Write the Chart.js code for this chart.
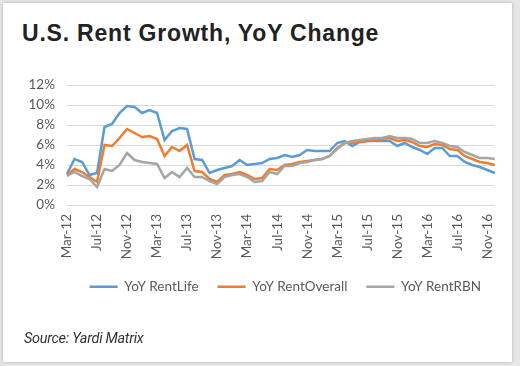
<!DOCTYPE html>
<html>
<head>
<meta charset="utf-8">
<script src="https://cdn.jsdelivr.net/npm/chart.js"></script>
<style>
    html, body { margin: 0; padding: 0; }
    body { width: 520px; height: 366px; background: #e6e6e6; position: relative; overflow: hidden; }
    #card { position: absolute; left: 3px; top: 3px; width: 509px; height: 359px; background: #fff; box-shadow: 0 0 3px rgba(0,0,0,0.25); }
    #title { position: absolute; left: 22px; top: 22px; font: bold 23px "Liberation Sans", Arial, sans-serif; letter-spacing: 0.8px; line-height: 23px; color: #222; }
    #source { position: absolute; left: 24px; top: 330px; font: italic 14.5px Roboto, sans-serif; letter-spacing: -0.3px; color: #333; }
    #chart { position: absolute; left: 0; top: 0; }
</style>
</head>
<body>
<div id="card"></div>
<div id="title">U.S. Rent Growth, YoY Change</div>
<canvas id="chart" width="520" height="366"></canvas>
<div id="source">Source: Yardi Matrix</div>
<script>
var months = [
    "Mar-12", "Apr-12", "May-12", "Jun-12", "Jul-12", "Aug-12", "Sep-12", "Oct-12", "Nov-12", "Dec-12",
    "Jan-13", "Feb-13", "Mar-13", "Apr-13", "May-13", "Jun-13", "Jul-13", "Aug-13", "Sep-13", "Oct-13", "Nov-13", "Dec-13",
    "Jan-14", "Feb-14", "Mar-14", "Apr-14", "May-14", "Jun-14", "Jul-14", "Aug-14", "Sep-14", "Oct-14", "Nov-14", "Dec-14",
    "Jan-15", "Feb-15", "Mar-15", "Apr-15", "May-15", "Jun-15", "Jul-15", "Aug-15", "Sep-15", "Oct-15", "Nov-15", "Dec-15",
    "Jan-16", "Feb-16", "Mar-16", "Apr-16", "May-16", "Jun-16", "Jul-16", "Aug-16", "Sep-16", "Oct-16", "Nov-16", "Dec-16"
];
var tickLabels = ["Mar-12", "Jul-12", "Nov-12", "Mar-13", "Jul-13", "Nov-13", "Mar-14", "Jul-14",
    "Nov-14", "Mar-15", "Jul-15", "Nov-15", "Mar-16", "Jul-16", "Nov-16"];
var yTicks = [0, 2, 4, 6, 8, 10, 12];

var rentLife = [3.1, 4.6, 4.3, 3.0, 3.2, 7.8, 8.1, 9.2, 9.9, 9.8,
    9.2, 9.5, 9.2, 6.5, 7.4, 7.7, 7.6, 4.6, 4.5, 3.2, 3.5, 3.7,
    3.9, 4.5, 4.0, 4.1, 4.2, 4.6, 4.7, 5.0, 4.8, 5.0, 5.5, 5.4,
    5.4, 5.4, 6.2, 6.4, 5.9, 6.3, 6.4, 6.4, 6.4, 6.4, 5.9, 6.2,
    5.8, 5.5, 5.1, 5.7, 5.7, 4.9, 4.9, 4.3, 4.0, 3.8, 3.5, 3.2];
var rentOverall = [3.0, 3.6, 3.3, 2.8, 2.3, 6.0, 5.9, 6.7, 7.6, 7.2,
    6.8, 6.9, 6.6, 4.9, 5.8, 5.4, 6.0, 3.4, 3.3, 2.6, 2.3, 3.0,
    3.1, 3.3, 3.0, 2.6, 2.7, 3.6, 3.5, 4.0, 4.1, 4.3, 4.4, 4.5,
    4.6, 4.9, 5.7, 6.2, 6.2, 6.3, 6.4, 6.5, 6.6, 6.7, 6.4, 6.5,
    6.3, 5.9, 5.8, 6.1, 6.0, 5.6, 5.5, 4.9, 4.6, 4.3, 4.2, 4.0];
var rentRBN = [2.9, 3.3, 2.9, 2.6, 1.8, 3.6, 3.4, 4.0, 5.2, 4.5,
    4.3, 4.2, 4.1, 2.7, 3.3, 2.8, 3.7, 2.8, 2.8, 2.4, 2.1, 2.8,
    3.0, 3.1, 2.8, 2.3, 2.4, 3.3, 3.1, 3.9, 3.9, 4.2, 4.3, 4.5,
    4.6, 4.9, 5.6, 6.2, 6.4, 6.5, 6.6, 6.7, 6.7, 6.9, 6.7, 6.7,
    6.6, 6.2, 6.2, 6.4, 6.2, 5.9, 5.8, 5.3, 5.0, 4.7, 4.7, 4.6];

var tickFont = { family: "Lato, sans-serif", size: 13.5 };
var tickColor = "#595959";

function makeSet(label, data, color, order) {
    return {
        label: label,
        data: data,
        borderColor: color,
        backgroundColor: color,
        borderWidth: 2.5,
        pointRadius: 0,
        tension: 0,
        fill: false,
        order: order
    };
}

var ctx = document.getElementById("chart").getContext("2d");
new Chart(ctx, {
    type: "line",
    data: {
        labels: months,
        datasets: [
            // gray on top, like the original
            makeSet("YoY RentLife", rentLife, "#5b9bd5", 2),
            makeSet("YoY RentOverall", rentOverall, "#ed7d31", 1),
            makeSet("YoY RentRBN", rentRBN, "#a5a5a5", 0)
        ]
    },
    options: {
        responsive: false,
        animation: false,
        layout: { padding: { left: 0, right: 20, top: 85, bottom: 62.5 } },
        plugins: {
            tooltip: { enabled: false },
            legend: {
                position: "bottom",
                align: "end",
                labels: {
                    usePointStyle: true,
                    pointStyle: "line",
                    pointStyleWidth: 28,
                    padding: 19,
                    color: tickColor,
                    font: tickFont,
                    sort: function(a, b) { return a.datasetIndex - b.datasetIndex; }
                }
            }
        },
        scales: {
            x: {
                offset: false,
                grid: { display: false, drawTicks: false },
                border: { display: false },
                ticks: {
                    autoSkip: false,
                    minRotation: 90,
                    maxRotation: 90,
                    padding: 9,
                    color: tickColor,
                    font: tickFont,
                    callback: function(value, index) {
                        var name = months[index];
                        return tickLabels.indexOf(name) >= 0 ? name : "";
                    }
                },
                // tall enough so the rotated labels are not clipped
                afterFit: function(scale) { scale.height = 56; }
            },
            y: {
                min: yTicks[0],
                max: yTicks[yTicks.length - 1],
                grid: { color: "#d9d9d9", lineWidth: 1, drawTicks: false },
                border: { display: false },
                ticks: {
                    stepSize: yTicks[1] - yTicks[0],
                    padding: 12,
                    color: tickColor,
                    font: tickFont,
                    callback: function(value) { return value + "%"; }
                },
                afterFit: function(scale) { scale.width = 67; }
            }
        }
    }
});
</script>
</body>
</html>
